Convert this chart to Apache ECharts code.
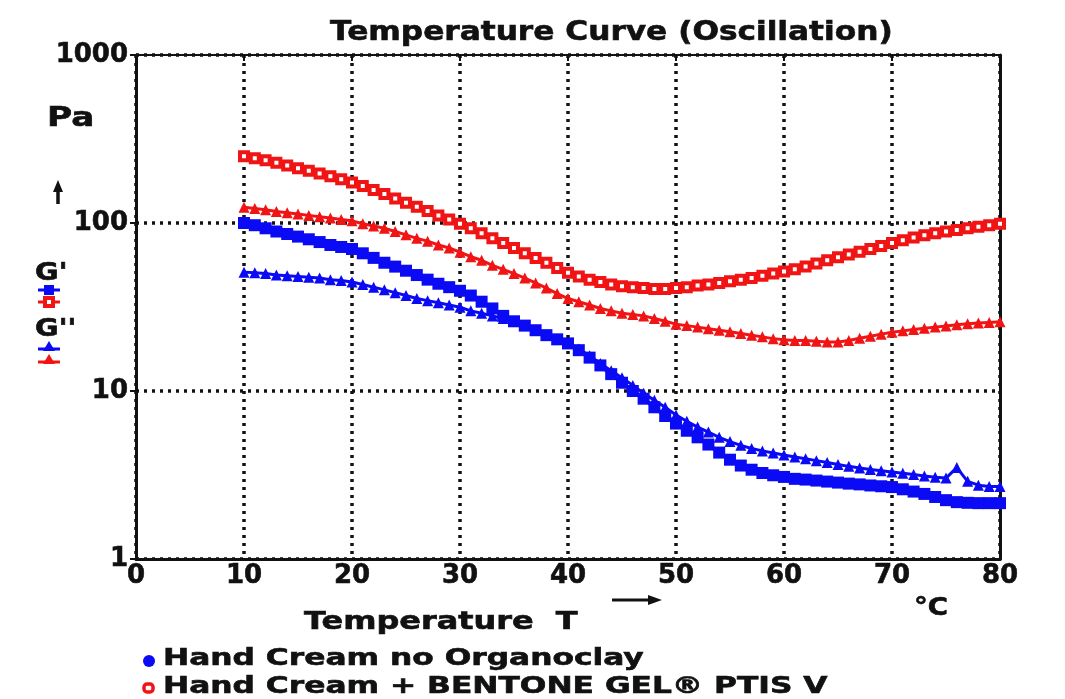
<!DOCTYPE html>
<html>
<head>
<meta charset="utf-8">
<title>Temperature Curve (Oscillation)</title>
<script src="https://cdn.jsdelivr.net/npm/echarts@6/dist/echarts.min.js"></script>
<style>
  html, body { margin: 0; padding: 0; background: #fff; }
  #chart { width: 1065px; height: 699px; }
</style>
</head>
<body>
<div id="chart"></div>
<script>
// temperature in °C, one reading per degree
const temps = [];
for (let t = 10; t <= 80; t++) temps.push(t);

// G' and G'' in Pa
const gStorageBentone = [250,243,236,228,220,212,205,197,190,182,174,166,157,149,140,132,125,118,111,105,
  99,93,87,81,76,71,66,62,58,54,50.5,48,46,44.5,43,42,41.5,41,40.5,40.5,41,41.5,42.5,43,44,45,46,47,48.5,50,
  51.5,53,55,57.5,60,62.5,65,67.5,70,73,76,79,82,84.5,87,89,91,93,95,97,99];
const gLossBentone = [124,122,120,117,115,113,111,109,107,105,103,99,96,93,89,85,81,78,74,71,
  67,63,60,56,53,50,47,44,41,38,35.5,34,32.5,31,30,29,28.5,28,27,26,25,24.5,24,23.5,23,22.5,22,21.5,21,20.5,
  20.2,20,20,19.8,19.6,19.6,20,20.6,21.2,21.8,22.4,22.8,23.2,23.6,24,24.4,24.8,25.1,25.4,25.6,25.8];
const gStoragePlain = [100,97,93,89,86,83,80,77,74,72,70,66,62,58,55,52,49,46,43.5,41.5,
  39.5,37,34,31,28,26,24.5,23,21.5,20.3,19.2,17.5,15.8,14.2,12.6,11.2,10,9,8,7.1,6.4,5.8,5.3,4.8,4.3,3.9,3.6,3.4,3.25,3.15,
  3.08,3.0,2.97,2.93,2.89,2.85,2.81,2.78,2.74,2.71,2.68,2.6,2.52,2.44,2.34,2.24,2.18,2.16,2.15,2.15,2.15];
const gLossPlain = [51,50.5,50,49,48.5,48,47.5,47,46,45.5,44.5,43,41.5,40,38.5,37,35.5,34.5,33.5,32.5,
  31.5,30,29,28,27,26,24.5,23,21.5,20.3,19.3,17.8,16.2,14.6,13.2,12,10.8,9.7,8.8,8,7.2,6.6,6.1,5.7,5.3,5.0,4.75,4.55,4.4,4.28,
  4.16,4.05,3.95,3.85,3.75,3.65,3.56,3.48,3.41,3.35,3.3,3.24,3.18,3.12,3.07,3.03,3.5,2.9,2.75,2.7,2.7];

const xTicks = [0, 10, 20, 30, 40, 50, 60, 70, 80];
const yTicks = [1, 10, 100, 1000];

const BLUE = '#0a0af5';
const RED = '#f01414';
const INK = '#111';
const FONT = 'DejaVu Sans';

function pairs(vals) {
  return vals.map((v, i) => [temps[i], v]);
}

// heavy, slightly stretched text like the original print
function label(text, x, y, size, sx) {
  return {
    type: 'text', x: x, y: y, scaleX: sx || 1,
    style: {
      text: text, fontFamily: FONT, fontWeight: 'bold', fontSize: size, fill: INK,
      stroke: INK, lineWidth: 0.6, verticalAlign: 'top'
    }
  };
}

const chart = echarts.init(document.getElementById('chart'), null, { renderer: 'canvas' });

const tickFont = {
  fontFamily: FONT, fontWeight: 'bold', fontSize: 26, color: INK,
  textBorderColor: INK, textBorderWidth: 0.6
};

const option = {
  animation: false,
  backgroundColor: '#fff',
  grid: { left: 136, right: 65, top: 55, bottom: 140 },
  xAxis: [{
    type: 'value', min: 0, max: 80, interval: 10,
    axisLine: { show: true, lineStyle: { color: INK, width: 3 } },
    axisTick: { show: false },
    axisLabel: Object.assign({
      margin: 4,
      formatter: v => xTicks.indexOf(v) >= 0 ? String(v) : ''
    }, tickFont),
    splitLine: { show: true, lineStyle: { color: INK, type: [3, 5], width: 3.5 } }
  }, {
    type: 'value', min: 0, max: 80, interval: 10, position: 'top',
    axisLine: { show: true, onZero: false, lineStyle: { color: INK, width: 2 } },
    axisTick: { show: true, inside: true, length: 6, lineStyle: { color: INK, width: 2 } },
    axisLabel: { show: false },
    splitLine: { show: false }
  }],
  yAxis: [{
    type: 'log', logBase: 10, min: 1, max: 1000,
    axisLine: { show: true, lineStyle: { color: INK, width: 3 } },
    axisTick: { show: true, length: 6, lineStyle: { color: INK, width: 2 } },
    minorTick: { show: false },
    axisLabel: Object.assign({
      margin: 8,
      formatter: v => yTicks.indexOf(Math.round(v)) >= 0 ? String(Math.round(v)) : ''
    }, tickFont),
    splitLine: { show: true, lineStyle: { color: INK, type: [3, 5], width: 3.5 } }
  }, {
    type: 'log', logBase: 10, min: 1, max: 1000, position: 'right',
    axisLine: { show: true, onZero: false, lineStyle: { color: INK, width: 3 } },
    axisTick: { show: false },
    axisLabel: { show: false },
    splitLine: { show: false }
  }],
  series: [
    {
      name: "G' Bentone", type: 'line', data: pairs(gStorageBentone),
      symbol: 'rect', symbolSize: 8,
      itemStyle: { color: '#fff', borderColor: RED, borderWidth: 4 },
      lineStyle: { color: RED, width: 2 }, z: 3
    },
    {
      name: "G'' Bentone", type: 'line', data: pairs(gLossBentone),
      symbol: 'triangle', symbolSize: 11,
      itemStyle: { color: RED },
      lineStyle: { color: RED, width: 3 }, z: 3
    },
    {
      name: "G' plain", type: 'line', data: pairs(gStoragePlain),
      symbol: 'rect', symbolSize: 12,
      itemStyle: { color: BLUE },
      lineStyle: { color: BLUE, width: 4 }, z: 4
    },
    {
      name: "G'' plain", type: 'line', data: pairs(gLossPlain),
      symbol: 'triangle', symbolSize: 11,
      itemStyle: { color: BLUE },
      lineStyle: { color: BLUE, width: 3 }, z: 4
    }
  ],
  graphic: [
    label('Temperature Curve (Oscillation)', 330, 20, 26, 1.2),
    // y axis name
    label('Pa', 47, 105, 27, 1.27),
    { type: 'line', shape: { x1: 58, y1: 188, x2: 58, y2: 204 }, style: { stroke: INK, lineWidth: 3.5 } },
    { type: 'polygon', shape: { points: [[58, 180], [63, 192], [53, 192]] }, style: { fill: INK } },
    // G' / G'' key
    label("G'", 35, 262, 24, 1.2),
    { type: 'line', shape: { x1: 38, y1: 290, x2: 60, y2: 290 }, style: { stroke: BLUE, lineWidth: 3 } },
    { type: 'rect', shape: { x: 44, y: 285, width: 10, height: 10 }, style: { fill: BLUE } },
    { type: 'line', shape: { x1: 38, y1: 302, x2: 60, y2: 302 }, style: { stroke: RED, lineWidth: 3 } },
    { type: 'rect', shape: { x: 45, y: 298, width: 8, height: 8 }, style: { fill: '#fff', stroke: RED, lineWidth: 4 } },
    label("G''", 35, 318, 24, 1.2),
    { type: 'line', shape: { x1: 38, y1: 349, x2: 60, y2: 349 }, style: { stroke: BLUE, lineWidth: 3 } },
    { type: 'polygon', shape: { points: [[49, 341], [55, 351], [43, 351]] }, style: { fill: BLUE } },
    { type: 'line', shape: { x1: 38, y1: 362, x2: 60, y2: 362 }, style: { stroke: RED, lineWidth: 3 } },
    { type: 'polygon', shape: { points: [[49, 354], [55, 364], [43, 364]] }, style: { fill: RED } },
    // x axis name
    label('Temperature  T', 304, 611, 24, 1.33),
    { type: 'line', shape: { x1: 612, y1: 600, x2: 650, y2: 600 }, style: { stroke: INK, lineWidth: 3 } },
    { type: 'polygon', shape: { points: [[662, 600], [648, 595], [648, 605]] }, style: { fill: INK } },
    label('°C', 914, 597, 24, 1.15),
    // sample key
    { type: 'circle', shape: { cx: 149, cy: 661, r: 6 }, style: { fill: BLUE } },
    label('Hand Cream no Organoclay', 163, 648, 23, 1.36),
    { type: 'rect', shape: { x: 144, y: 684, width: 9, height: 8, r: 3 }, style: { fill: '#fff', stroke: RED, lineWidth: 3.5 } },
    label('Hand Cream + BENTONE GEL® PTIS V', 163, 676, 23, 1.36)
  ]
};

chart.setOption(option);
</script>
</body>
</html>
